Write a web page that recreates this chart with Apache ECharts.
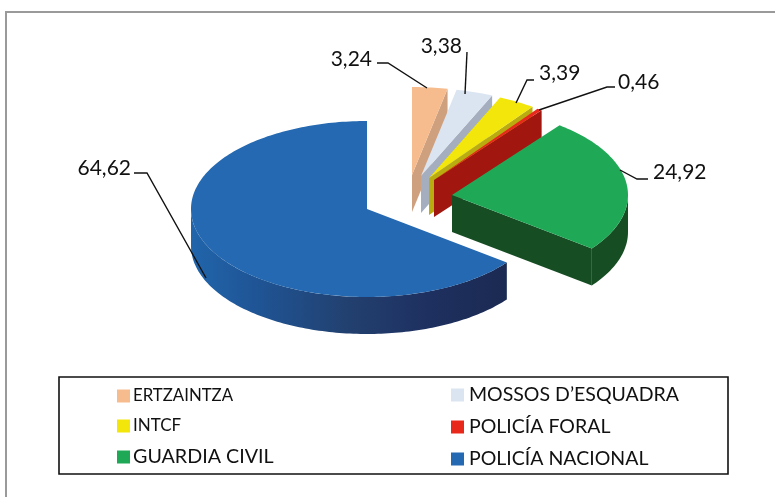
<!DOCTYPE html>
<html><head><meta charset="utf-8">
<style>html,body{margin:0;padding:0;background:#fff}#c{width:775px;height:497px}</style>
<script src="https://cdn.jsdelivr.net/npm/echarts@6/dist/echarts.min.js"></script>
</head><body><div id="c"></div>
<script>
const categories = ['ERTZAINTZA','MOSSOS D\u2019ESQUADRA','INTCF','POLICÍA FORAL','GUARDIA CIVIL','POLICÍA NACIONAL'];
const values = [3.24,3.38,3.39,0.46,24.92,64.62];
const colors = ['#f6bc8e','#dbe4f1','#f3e60a','#e8281b','#1fa956','#2469b1'];
const wallColors = ['#cfa07e','#a4aebf','#b9ac10','#a1170f','#174d23','#1f4f8f'];
const legendSizes = [16.8,19.5,17,19.5,19.7,19.5];

// layout of the drawing (not data)
const RX = 176, RY = 88, DEPTH = 37;
const apexes = [[412,175],[421,176],[429,178],[434,180],[452,195],[367,209]];
const labelPos = [[372,59,'right'],[462,46,'right'],[539,73,'left'],[618,82,'left'],[653,172,'left'],[131,168,'right']];
const leaders = [
  [[377,63],[388,63],[427,88]],
  [[467,52],[465,94]],
  [[534,80],[527,80],[516,103]],
  [[615,87],[607,87],[539,110]],
  [[648,179],[637,179],[620,170]],
  [[134,173],[147,173],[206,278]]
];

const total = values.reduce((a,b)=>a+b,0);
const starts = []; let acc = 0;
values.forEach(v=>{starts.push(acc/total*Math.PI*2); acc+=v;});

function pt(c,a,dy){return [c[0]+RX*Math.sin(a), c[1]-RY*Math.cos(a)+(dy||0)];}
function arc(c,a0,a1,dy){
  const n=Math.max(2,Math.ceil(Math.abs(a1-a0)/0.02)),o=[];
  for(let i=0;i<=n;i++) o.push(pt(c,a0+(a1-a0)*i/n,dy));
  return o;
}
function renderSlice(i){
  return function(params,api){
    const v=api.value(0), a0=starts[i], a1=a0+v/total*Math.PI*2, c=apexes[i];
    const kids=[], wall=wallColors[i];
    // cut wall on the clockwise end
    if(Math.sin(a1)>0.001){
      const p=pt(c,a1);
      kids.push({type:'polygon',shape:{points:[c,p,[p[0],p[1]+DEPTH],[c[0],c[1]+DEPTH]]},style:{fill:wall}});
    }
    // rim wall: the part of the arc facing the viewer
    const lo=Math.max(a0,Math.PI/2), hi=Math.min(a1,Math.PI*1.5);
    if(hi>lo){
      const top=arc(c,lo,hi,0), bot=arc(c,hi,lo,DEPTH);
      let fill=wall;
      if(i===5){
        fill={type:'linear',x:1,y:0,x2:0,y2:0,colorStops:[
          {offset:0,color:'#1b2a52'},{offset:0.25,color:'#1e3060'},{offset:0.5,color:'#22406f'},
          {offset:0.8,color:'#1f5596'},{offset:1,color:'#2165ab'}]};
      }
      kids.push({type:'polygon',shape:{points:top.concat(bot)},style:{fill:fill}});
    }
    // top surface
    kids.push({type:'polygon',shape:{points:[c].concat(arc(c,a0,a1,0))},style:{fill:colors[i]}});
    // leader line and value label
    kids.push({type:'polyline',shape:{points:leaders[i]},style:{stroke:'#111',lineWidth:1.4,fill:null}});
    const lp=labelPos[i];
    kids.push({type:'text',style:{x:lp[0],y:lp[1],text:v.toFixed(2).replace('.',','),align:lp[2],verticalAlign:'middle',
      font:'21px Lato',fill:'#111'}});
    return {type:'group',children:kids};
  };
}

const series = categories.map((name,i)=>({
  type:'custom',name:name,coordinateSystem:'none',
  itemStyle:{color:colors[i]},
  z:2+i,silent:true,animation:false,
  data:[[values[i]]],
  renderItem:renderSlice(i)
}));
const leg = (x,top,gap,idx,pad)=>({
  orient:'vertical',left:x,top:top,itemWidth:13,itemHeight:13,itemGap:gap,icon:'rect',padding:0,
  selectedMode:false,
  data:idx.map(k=>({name:categories[k],textStyle:{fontSize:legendSizes[k]}})),
  textStyle:{fontFamily:'Lato',color:'#111',lineHeight:18,padding:[0,0,0,pad]}
});
const chart = echarts.init(document.getElementById('c'),null,{renderer:'canvas'});
chart.setOption({
  backgroundColor:'#fff',animation:false,
  legend:[leg(117,387,12,[0,2,4],-2),leg(451,385,12,[1,3,5],0)],
  graphic:[
    {type:'polyline',shape:{points:[[6,497],[6,12],[775,12]]},style:{stroke:'#9a9a9a',lineWidth:2,fill:null},silent:true,z:0},
    {type:'rect',shape:{x:59,y:377,width:669,height:97},style:{stroke:'#111',lineWidth:1.6,fill:'#fff'},silent:true,z:0}
  ],
  series:series
});
</script></body></html>
